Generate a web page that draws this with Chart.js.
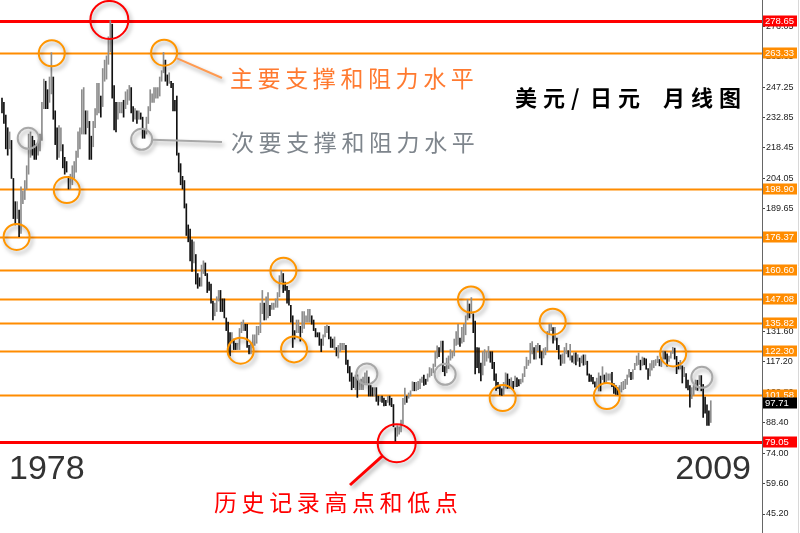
<!DOCTYPE html>
<html><head><meta charset="utf-8">
<script src="https://cdn.jsdelivr.net/npm/chart.js@4.4.0/dist/chart.umd.min.js"></script>
<style>html,body{margin:0;padding:0;background:#fff;}canvas{display:block;}</style>
</head><body>
<canvas id="c" width="800" height="533"></canvas>
<script>
// ===== DATA (USD/JPY monthly, Jan 1978 – Feb 2009) =====
const startYear = 1978;
const monthlyHigh = [
 242,240,234,228,226,222,204,193,193,189,200,198,            // 1978
 203,210,225,226,224,222,220,221,225,240,251,250,            // 1979
 246,252,263.5,252,236,228,229,228,220,214,212,205,          // 1980
 206,210,212,217,226,228,246,247,236,236,231,224,            // 1981
 231,237,249,249,243,256,260,262,271,278.65,277,248,         // 1982
 240,240,240,240,241,245,246,248,247,238,237,236,            // 1983
 236,235,233,227,233,238,246,244,247,247,247,252,            // 1984
 255,263.6,260,253,254,250,249,241,243,216,211,205,          // 1985
 203,192,182,180,175,174,168,159,157,163,165,164,            // 1986
 159,155,154,146,145,148,151,151,147,147,138,136,            // 1987
 131,131,128,126,126,133,136,137,135,135,125,126,            // 1988
 130,130,134,134,145,151,145,148,150,144,145,145,            // 1989
 147,150,158,160.4,159,155,153,151,144,139,132,137,          // 1990
 137,134,141,141,139,142,142,139,137,133,131,131,            // 1991
 128,130,134,134.6,134,129,128,129,124,125,126,126,          // 1992
 126,125,118,115,112,110,111,111,108,109,110,112,            // 1993
 113,110,106,105,105,105,101,101,101,100,99,101,             // 1994
 101,100,97,86,87,86.5,89.6,99.9,104.8,101,102.5,103.5,      // 1995
 107.8,107.5,107.5,108,109,110,111,109,111.5,114.5,114,116.2,// 1996
 122,124.8,124,127,127,115,119,120,123,122,128,131.5,        // 1997
 135,128.5,133.5,135,139,146.7,144.6,147.6,139.9,136.5,124,123.8, // 1998
 116.6,122,123,122,124.5,122,122,117,111.5,107.5,106,104.5,  // 1999
 107.5,112,111.5,109,109.7,108,110.5,109.6,108.8,109,111.6,115, // 2000
 119.4,118,126,126.8,124,125,126,125,122,123.5,124,131.6,    // 2001
 135,135.2,133.4,133.5,128.5,125,120.5,121,124,126,122.5,125.5, // 2002
 120,121.5,121.5,120.6,119,120,120.5,120.5,117.5,111.5,110.9,109.9, // 2003
 107.8,109.5,112,110.5,114.9,111,112,111.5,111.5,112.2,106.9,106, // 2004
 105,106,107.5,108,108.9,111,113.7,112.3,113.6,116.5,120,121.4, // 2005
 118,119.5,119,118.6,114,116.4,117.8,117.9,118.3,119.9,118.3,119.1, // 2006
 122.2,122,121,119.9,122,124.1,123.7,119.8,117,117.9,115.3,114.6, // 2007
 111.7,108.6,106,105,106,108.6,108.5,110.7,110.7,106.5,100.5,96.9, // 2008
 94,98.8                                                      // 2009
];
const monthlyLow = [
 235,230,218,215,218,204,185,182,185,176.4,178,192,          // 1978
 194,199,206,214,215,213,213,215,217,222,237,237,            // 1979
 237,240,244,232,220,213,214,217,209,206,207,199,            // 1980
 199,201,204,207,214,218,225,225,225,228,213,213,            // 1981
 219,228,234,235,233,238,250,251,258,264,242,227,            // 1982
 226,232,235,235,233,237,239,241,235,231,232,230,            // 1983
 232,232,223,223,225,230,236,240,240,242,242,243,            // 1984
 250,254,250,248,249,247,236,236,215,207,201,199,            // 1985
 190,177,174,165,160,164,154,152,153,153,159,158,            // 1986
 150,151,145,137,139,141,146,141,141,138,132,121,            // 1987
 120,126,123,123,123,123,131,132,132,124,121,121,            // 1988
 124,125,126,130,131,140,137,137,138,139,142,142,            // 1989
 143,143,148,155,150,151,145,144,136,124,128,131,            // 1990
 131,127,131,133,136,136,136,135,132,129,129,125,            // 1991
 122,125,129,131,128,124,124,123,120,119,122,123,            // 1992
 123,116,112,108,104,105,104,100.4,104,104,104,107,          // 1993
 107,101,101,101,101,98.5,96.7,98.5,98,96.3,96.5,98,         // 1994
 96.7,96,86.5,79.75,82,83,84,88,97,98,100,101,               // 1995
 103.5,103.5,103.5,104,104.5,107.5,106,106.5,108,110,110.7,112, // 1996
 115,119,119.6,122,112.5,110.6,112,114,118,119,120,125,      // 1997
 125.5,124.5,126,126.7,130,137,138,140,131,111.5,114.5,112,  // 1998
 108.2,111,115.5,117.5,119,117,114,108.4,103.7,104.5,101.5,101.3, // 1999
 101.6,104.8,104.6,104.8,105,104.3,105.4,105.5,105.8,106.8,107.6,110.2, // 2000
 114,115.5,116.6,121,118.5,118.5,122.5,119,115.8,119,120.5,122.5, // 2001
 130.5,132,126,127.5,123,118.5,115.5,116.5,116.5,121,119.5,118, // 2002
 117,116.5,115.8,117.5,115,116.7,115.6,115.9,110.9,107.9,107.9,106.8, // 2003
 105.2,105.3,103.4,103.4,108.8,106.9,107.2,108.5,108.5,105.5,102.3,101.8, // 2004
 101.7,103,102.9,104,104.5,106.5,110,108.8,109,113.5,115.5,115.9, // 2005
 113.4,115.5,115.8,113.7,108.9,110.5,113.3,114.4,115.5,116.8,115.3,114.9, // 2006
 118.5,118.5,115.1,117.4,119,121.2,118.5,111.6,113.8,113.8,107.2,110.2, // 2007
 104.9,103.9,95.8,99.8,101.4,103.9,103.7,106.5,103.5,90.9,92.9,87.1, // 2008
 87.1,88.5                                                    // 2009
];
const lastPrice = 97.71;
const yTickValues = [45.20,59.60,74.00,88.40,102.80,117.20,131.60,146.00,160.40,175.25,189.65,204.05,218.45,232.85,247.25,261.65,276.05];
const majorLevels = [278.65, 79.05];
const minorLevels = [263.33, 198.90, 176.37, 160.60, 147.08, 135.82, 122.30, 101.58];
// circle annotations: [month index, price]
const orangeCircles = [[7.7,176.3],[26.2,263.2],[34.1,198.5],[85.3,263.5],[125.6,122.5],[148.1,160.3],[153.7,123.1],[246.8,146.7],[263.5,100.1],[289.8,136.2],[318.3,101.0],[353.2,121.2]];
const grayCircles = [[13.8,223.0],[73.5,222.5],[192,111.5],[233.2,111.3],[368.3,109.9]];
const redCircles = [[56.5,279.0],[207.7,78.7]];
const titleText = "美元/日元 月线图";
const majorText = "主要支撑和阻力水平";
const minorText = "次要支撑和阻力水平";
const extremeText = "历史记录高点和低点";
const yearStart = "1978", yearEnd = "2009";

// ===== build datasets =====
const bars = monthlyHigh.map((h, i) => ({x: i, y: [monthlyLow[i], h]}));
const barColors = monthlyHigh.map((h, i) => {
  if (i === 0) return '#111';
  const m = (h + monthlyLow[i]) / 2, pm = (monthlyHigh[i-1] + monthlyLow[i-1]) / 2;
  return m >= pm ? '#8d8d8d' : '#111';
});

function shadowOn(ctx){ctx.shadowColor='rgba(0,0,0,0.35)';ctx.shadowBlur=4;ctx.shadowOffsetX=2;ctx.shadowOffsetY=3;}
function shadowOff(ctx){ctx.shadowColor='transparent';ctx.shadowBlur=0;ctx.shadowOffsetX=0;ctx.shadowOffsetY=0;}
function spaced(ctx, text, x, y, adv, special){
  let cx = x;
  for (const ch of text){
    ctx.fillText(ch, cx, y);
    cx += (special && special[ch] !== undefined) ? special[ch] : adv;
  }
}

const levelPlugin = {
  id: 'levels',
  beforeDatasetsDraw(chart){
    const {ctx, chartArea, scales:{y}} = chart;
    ctx.save();
    minorLevels.forEach(v => {
      const py = Math.round(y.getPixelForValue(v)) + 0.5;
      ctx.strokeStyle = '#FF8C00'; ctx.lineWidth = 2;
      ctx.beginPath(); ctx.moveTo(chartArea.left, py); ctx.lineTo(chartArea.right, py); ctx.stroke();
    });
    majorLevels.forEach(v => {
      const py = Math.round(y.getPixelForValue(v)) + 0.5;
      ctx.strokeStyle = '#FF0000'; ctx.lineWidth = 3;
      ctx.beginPath(); ctx.moveTo(chartArea.left, py); ctx.lineTo(chartArea.right, py); ctx.stroke();
    });
    ctx.restore();
  },
  afterDraw(chart){
    const {ctx, chartArea, scales:{x, y}} = chart;
    ctx.save();
    const P = c => [x.getPixelForValue(c[0]), y.getPixelForValue(c[1])];
    const drawCircle = (c, r, col, w) => {
      const [px, py] = P(c);
      shadowOn(ctx);
      ctx.strokeStyle = col; ctx.lineWidth = w;
      ctx.beginPath(); ctx.arc(px, py, r, 0, Math.PI*2); ctx.stroke();
      shadowOff(ctx);
    };
    orangeCircles.forEach(c => drawCircle(c, 13, '#FF9500', 2));
    grayCircles.forEach(c => drawCircle(c, 10.5, '#A8A8A8', 2));
    redCircles.forEach(c => drawCircle(c, 19, '#FF0000', 2));

    ctx.textBaseline = 'middle'; ctx.textAlign = 'left';
    const majX = 230, majY = 78, minX = 231, minY = 142, extX = 214, extY = 502;
    const connector = (c, r, ex, ey, col, w) => {
      const [px, py] = P(c);
      const dx = ex - px, dy = ey - py, d = Math.hypot(dx, dy);
      shadowOn(ctx);
      ctx.strokeStyle = col; ctx.lineWidth = w;
      ctx.beginPath(); ctx.moveTo(px + dx/d*r, py + dy/d*r); ctx.lineTo(ex, ey); ctx.stroke();
      shadowOff(ctx);
    };
    connector(orangeCircles[3], 13, majX - 8, majY, '#FF9A50', 2);
    connector(grayCircles[1], 10.5, minX - 9, minY, '#A8A8A8', 2);
    connector(redCircles[1], 19, extX + 136, extY - 17, '#FF0000', 3);

    ctx.font = '23px "Noto Sans CJK SC"';
    ctx.fillStyle = '#FF7A30';
    spaced(ctx, majorText, majX, majY, 27.6);
    ctx.fillStyle = '#7E858C';
    spaced(ctx, minorText, minX, minY, 27.6);
    ctx.fillStyle = '#FF0000';
    spaced(ctx, extremeText, extX, extY, 27.6);
    ctx.font = 'bold 22px "Noto Sans CJK SC"';
    ctx.fillStyle = '#000';
    spaced(ctx, titleText, 515, 98, 28, {'/': 19, ' ': 17});

    ctx.font = '34px "Liberation Sans"';
    ctx.fillStyle = '#333';
    ctx.textBaseline = 'alphabetic';
    ctx.fillText(yearStart, 9, 479);
    ctx.textAlign = 'right';
    ctx.fillText(yearEnd, 751, 479);

    const box = (v, bg) => {
      const py = y.getPixelForValue(v);
      ctx.fillStyle = bg;
      ctx.fillRect(chartArea.right + 1, Math.round(py) - 5.5, 34, 11);
      ctx.fillStyle = '#fff';
      ctx.font = '9.5px "Liberation Sans"';
      ctx.textAlign = 'left'; ctx.textBaseline = 'middle';
      ctx.fillText(v.toFixed(2), chartArea.right + 3, Math.round(py) + 0.5);
    };
    minorLevels.forEach(v => box(v, '#FF8C00'));
    majorLevels.forEach(v => box(v, '#FF0000'));
    box(lastPrice, '#000');

    ctx.strokeStyle = '#d8d8d8'; ctx.lineWidth = 1;
    ctx.beginPath(); ctx.moveTo(798.5, 0); ctx.lineTo(798.5, 533); ctx.stroke();
    ctx.restore();
  }
};

new Chart(document.getElementById('c'), {
  type: 'bar',
  data: { datasets: [{ data: bars, backgroundColor: barColors, barThickness: 1, grouped: false }] },
  options: {
    responsive: false, animation: false,
    layout: { padding: 0 },
    plugins: { legend: { display: false }, tooltip: { enabled: false } },
    scales: {
      x: { type: 'linear', min: -1.05, max: 399.95, offset: false, bounds: 'data', display: false, grid: { offset: false } },
      y: {
        position: 'right', min: 36.21, max: 288.44,
        afterBuildTicks: s => { s.ticks = yTickValues.map(v => ({value: v})); },
        afterFit: s => { s.width = 38; s.paddingTop = 0; s.paddingBottom = 0; },
        ticks: { callback: v => Number(v).toFixed(2), font: { family: 'Liberation Sans', size: 9 }, color: '#222', padding: 1, autoSkip: false },
        grid: { drawOnChartArea: false, drawTicks: true, tickLength: 3, color: '#444' },
        border: { color: '#666', width: 1 }
      }
    }
  },
  plugins: [levelPlugin]
});
</script>
</body></html>
